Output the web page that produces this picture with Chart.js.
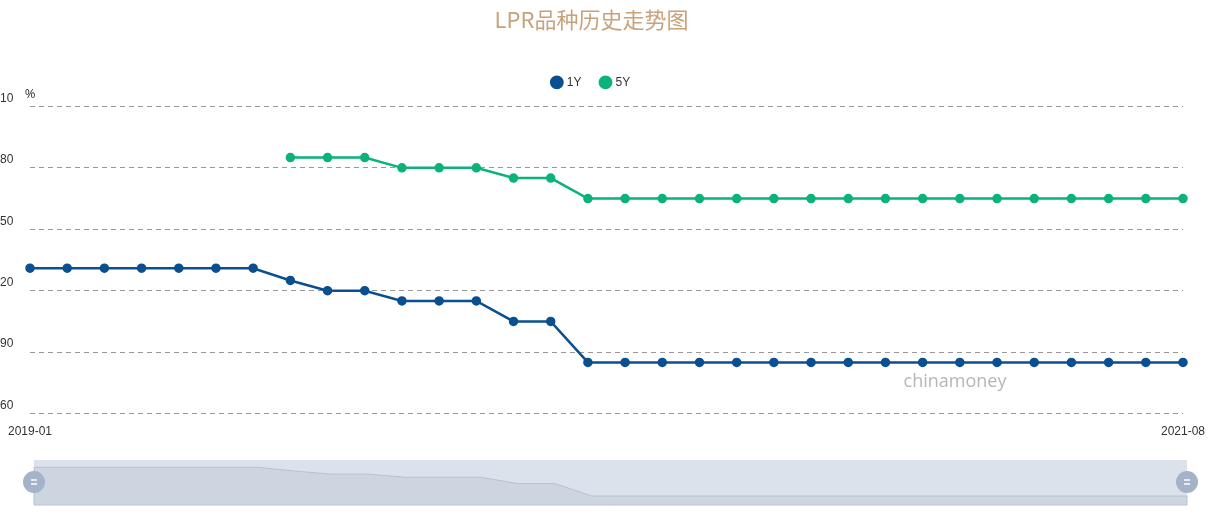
<!DOCTYPE html>
<html>
<head>
<meta charset="utf-8">
<script src="https://cdn.jsdelivr.net/npm/chart.js@4"></script>
<style>
  html, body { margin: 0; padding: 0; background: #fff; }
  #wrap { width: 1220px; height: 531px; }
</style>
</head>
<body>
<div id="wrap"><canvas id="c"></canvas></div>
<script>
// ==================== Dados ====================
const months = [];
for (let y = 2019; y <= 2021; y++) {
  for (let m = 1; m <= 12; m++) {
    if (y === 2021 && m > 8) break;
    months.push(`${y}-${String(m).padStart(2, '0')}`);
  }
}
const lpr1Y = [4.31,4.31,4.31,4.31,4.31,4.31,4.31,4.25,4.20,4.20,4.15,4.15,4.15,4.05,4.05,
  3.85,3.85,3.85,3.85,3.85,3.85,3.85,3.85,3.85,3.85,3.85,3.85,3.85,3.85,3.85,3.85,3.85];
const lpr5Y = [null,null,null,null,null,null,null,4.85,4.85,4.85,4.80,4.80,4.80,4.75,4.75,
  4.65,4.65,4.65,4.65,4.65,4.65,4.65,4.65,4.65,4.65,4.65,4.65,4.65,4.65,4.65,4.65,4.65];

// ==================== Plugins ====================
const legendGap = {
  id: 'legendGap',
  beforeInit(chart) {
    const fit = chart.legend.fit;
    chart.legend.fit = function () { fit.bind(this)(); this.height += 8; };
  }
};

const extras = {
  id: 'extras',
  afterDraw(chart) {
    const ctx = chart.ctx;
    ctx.save();
    // unidade
    ctx.fillStyle = '#333';
    ctx.font = '13px "Open Sans", sans-serif';
    ctx.textAlign = 'center';
    ctx.fillText('%', 30, 94);
    // marca d'água
    ctx.fillStyle = 'rgba(120,120,120,0.55)';
    ctx.font = '18px "Open Sans", sans-serif';
    ctx.fillText('chinamoney', 955, 382);
    // slider
    const sx = 34, sw = 1153, sy = 460, sh = 45;
    ctx.fillStyle = '#dbe2ec';
    ctx.fillRect(sx, sy, sw, sh);
    const ymin = 3.706, ymax = 4.426;
    ctx.beginPath();
    lpr1Y.forEach((v, i) => {
      const x = sx + i * sw / (lpr1Y.length - 1);
      const y = sy + sh - (v - ymin) / (ymax - ymin) * sh;
      if (i === 0) ctx.moveTo(x, y); else ctx.lineTo(x, y);
    });
    ctx.lineTo(sx + sw, sy + sh);
    ctx.lineTo(sx, sy + sh);
    ctx.closePath();
    ctx.fillStyle = '#cdd5e0';
    ctx.fill();
    ctx.strokeStyle = '#b8c2d0';
    ctx.lineWidth = 1;
    ctx.stroke();
    [sx, sx + sw].forEach(hx => {
      ctx.beginPath();
      ctx.arc(hx, sy + 22, 11, 0, Math.PI * 2);
      ctx.fillStyle = '#a5b3c8';
      ctx.fill();
      ctx.strokeStyle = '#fff';
      ctx.lineWidth = 1.5;
      ctx.beginPath(); ctx.moveTo(hx - 3, sy + 20); ctx.lineTo(hx + 3, sy + 20); ctx.stroke();
      ctx.beginPath(); ctx.moveTo(hx - 3, sy + 24); ctx.lineTo(hx + 3, sy + 24); ctx.stroke();
    });
    ctx.restore();
  }
};

// ==================== Chart ====================
new Chart(document.getElementById('c'), {
  type: 'line',
  data: {
    labels: months,
    datasets: [
      { label: '1Y', data: lpr1Y, borderColor: '#0a4f8f', backgroundColor: '#0a4f8f',
        borderWidth: 2.5, pointRadius: 3.5, pointHoverRadius: 5, tension: 0 },
      { label: '5Y', data: lpr5Y, borderColor: '#0bb37a', backgroundColor: '#0bb37a',
        borderWidth: 2.5, pointRadius: 3.5, pointHoverRadius: 5, tension: 0 }
    ]
  },
  options: {
    responsive: true,
    maintainAspectRatio: false,
    animation: false,
    layout: { padding: { left: 0, right: 37, top: 0, bottom: 89 } },
    plugins: {
      title: { display: true, text: 'LPR品种历史走势图', color: '#c9a27c',
        font: { size: 22, family: '"Noto Sans CJK SC", sans-serif', weight: 'normal' },
        padding: { top: 6, bottom: 24 } },
      legend: { labels: { usePointStyle: true, pointStyle: 'circle', boxWidth: 8, boxHeight: 8,
        color: '#333', font: { size: 12 }, padding: 20 } },
      tooltip: { enabled: true }
    },
    scales: {
      x: {
        offset: false,
        grid: { display: false },
        border: { display: false },
        ticks: { autoSkip: false, maxRotation: 0, color: '#333', font: { size: 12 },
          callback: (v, i) => (i === 0 || i === months.length - 1) ? months[i] : '' }
      },
      y: {
        min: 3.6, max: 5.1,
        grid: { color: '#999', drawTicks: false },
        border: { display: false, dash: [5, 4] },
        afterFit: s => { s.width = 30; },
        ticks: { stepSize: 0.3, mirror: true, padding: -40, labelOffset: -8, color: '#333',
          font: { size: 12 }, callback: v => Number(v).toFixed(2) }
      }
    }
  },
  plugins: [legendGap, extras]
});
</script>
</body>
</html>
